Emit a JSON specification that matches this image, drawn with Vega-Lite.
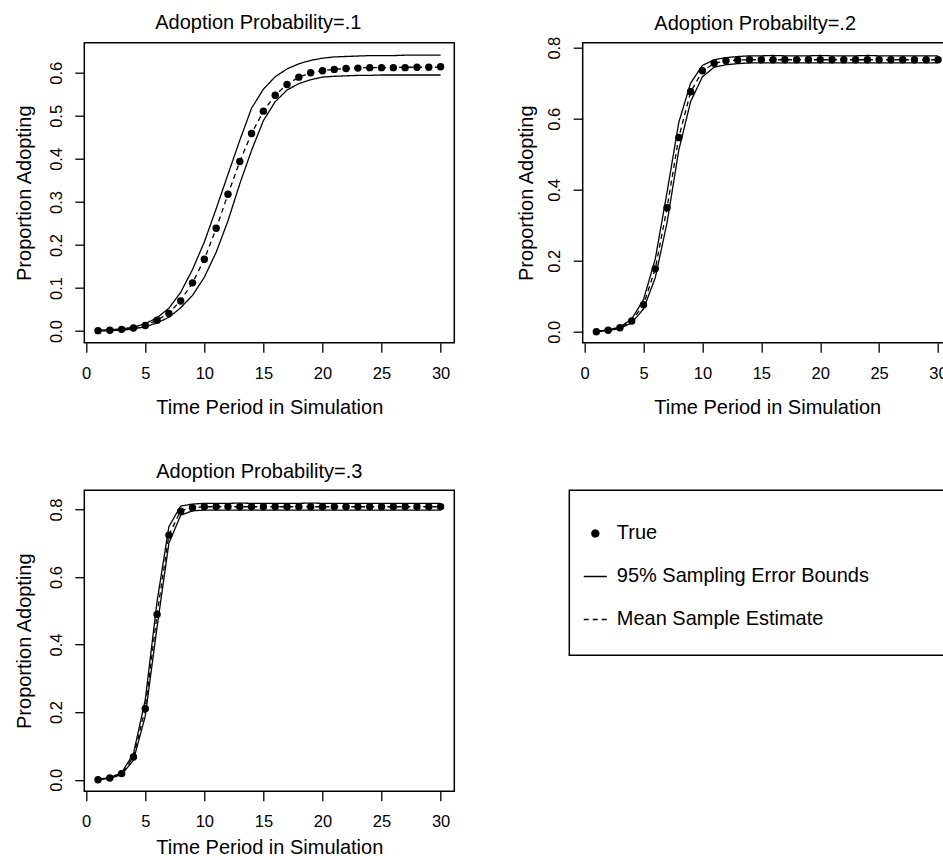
{
  "$schema": "https://vega.github.io/schema/vega-lite/v6.json",
  "background": "white",
  "padding": {"left": 13.3, "top": 11.7, "right": 0, "bottom": 0},
  "spacing": 41.5,
  "datasets": {
    "sim": [
      {"panel":1,"t":1,"truth":0.001,"lower":0.000,"upper":0.002,"mean":0.001},
      {"panel":1,"t":2,"truth":0.002,"lower":0.001,"upper":0.003,"mean":0.002},
      {"panel":1,"t":3,"truth":0.004,"lower":0.002,"upper":0.005,"mean":0.003},
      {"panel":1,"t":4,"truth":0.007,"lower":0.005,"upper":0.009,"mean":0.007},
      {"panel":1,"t":5,"truth":0.013,"lower":0.010,"upper":0.017,"mean":0.013},
      {"panel":1,"t":6,"truth":0.025,"lower":0.019,"upper":0.031,"mean":0.025},
      {"panel":1,"t":7,"truth":0.041,"lower":0.032,"upper":0.053,"mean":0.042},
      {"panel":1,"t":8,"truth":0.070,"lower":0.054,"upper":0.090,"mean":0.071},
      {"panel":1,"t":9,"truth":0.112,"lower":0.083,"upper":0.143,"mean":0.112},
      {"panel":1,"t":10,"truth":0.167,"lower":0.125,"upper":0.207,"mean":0.167},
      {"panel":1,"t":11,"truth":0.239,"lower":0.183,"upper":0.284,"mean":0.238},
      {"panel":1,"t":12,"truth":0.318,"lower":0.256,"upper":0.364,"mean":0.318},
      {"panel":1,"t":13,"truth":0.394,"lower":0.342,"upper":0.443,"mean":0.394},
      {"panel":1,"t":14,"truth":0.459,"lower":0.420,"upper":0.518,"mean":0.459},
      {"panel":1,"t":15,"truth":0.511,"lower":0.489,"upper":0.562,"mean":0.511},
      {"panel":1,"t":16,"truth":0.548,"lower":0.533,"upper":0.591,"mean":0.548},
      {"panel":1,"t":17,"truth":0.573,"lower":0.560,"upper":0.609,"mean":0.573},
      {"panel":1,"t":18,"truth":0.590,"lower":0.575,"upper":0.621,"mean":0.590},
      {"panel":1,"t":19,"truth":0.600,"lower":0.584,"upper":0.629,"mean":0.600},
      {"panel":1,"t":20,"truth":0.605,"lower":0.590,"upper":0.634,"mean":0.605},
      {"panel":1,"t":21,"truth":0.608,"lower":0.592,"upper":0.637,"mean":0.608},
      {"panel":1,"t":22,"truth":0.610,"lower":0.593,"upper":0.638,"mean":0.610},
      {"panel":1,"t":23,"truth":0.611,"lower":0.594,"upper":0.639,"mean":0.611},
      {"panel":1,"t":24,"truth":0.612,"lower":0.594,"upper":0.640,"mean":0.612},
      {"panel":1,"t":25,"truth":0.612,"lower":0.595,"upper":0.640,"mean":0.612},
      {"panel":1,"t":26,"truth":0.612,"lower":0.595,"upper":0.640,"mean":0.612},
      {"panel":1,"t":27,"truth":0.612,"lower":0.595,"upper":0.641,"mean":0.613},
      {"panel":1,"t":28,"truth":0.613,"lower":0.595,"upper":0.641,"mean":0.613},
      {"panel":1,"t":29,"truth":0.613,"lower":0.595,"upper":0.641,"mean":0.613},
      {"panel":1,"t":30,"truth":0.614,"lower":0.595,"upper":0.641,"mean":0.613},
      {"panel":2,"t":1,"truth":0.000,"lower":0.000,"upper":0.001,"mean":0.000},
      {"panel":2,"t":2,"truth":0.004,"lower":0.003,"upper":0.005,"mean":0.004},
      {"panel":2,"t":3,"truth":0.011,"lower":0.009,"upper":0.013,"mean":0.011},
      {"panel":2,"t":4,"truth":0.030,"lower":0.025,"upper":0.036,"mean":0.030},
      {"panel":2,"t":5,"truth":0.076,"lower":0.064,"upper":0.090,"mean":0.076},
      {"panel":2,"t":6,"truth":0.177,"lower":0.152,"upper":0.205,"mean":0.177},
      {"panel":2,"t":7,"truth":0.349,"lower":0.307,"upper":0.393,"mean":0.349},
      {"panel":2,"t":8,"truth":0.547,"lower":0.512,"upper":0.590,"mean":0.548},
      {"panel":2,"t":9,"truth":0.676,"lower":0.648,"upper":0.700,"mean":0.675},
      {"panel":2,"t":10,"truth":0.735,"lower":0.718,"upper":0.750,"mean":0.734},
      {"panel":2,"t":11,"truth":0.756,"lower":0.745,"upper":0.766,"mean":0.756},
      {"panel":2,"t":12,"truth":0.763,"lower":0.752,"upper":0.772,"mean":0.763},
      {"panel":2,"t":13,"truth":0.765,"lower":0.755,"upper":0.775,"mean":0.765},
      {"panel":2,"t":14,"truth":0.766,"lower":0.757,"upper":0.777,"mean":0.766},
      {"panel":2,"t":15,"truth":0.766,"lower":0.757,"upper":0.777,"mean":0.766},
      {"panel":2,"t":16,"truth":0.766,"lower":0.757,"upper":0.778,"mean":0.766},
      {"panel":2,"t":17,"truth":0.766,"lower":0.757,"upper":0.777,"mean":0.766},
      {"panel":2,"t":18,"truth":0.766,"lower":0.757,"upper":0.777,"mean":0.766},
      {"panel":2,"t":19,"truth":0.766,"lower":0.757,"upper":0.777,"mean":0.766},
      {"panel":2,"t":20,"truth":0.766,"lower":0.757,"upper":0.778,"mean":0.766},
      {"panel":2,"t":21,"truth":0.766,"lower":0.757,"upper":0.777,"mean":0.766},
      {"panel":2,"t":22,"truth":0.766,"lower":0.757,"upper":0.777,"mean":0.766},
      {"panel":2,"t":23,"truth":0.766,"lower":0.757,"upper":0.777,"mean":0.766},
      {"panel":2,"t":24,"truth":0.766,"lower":0.757,"upper":0.778,"mean":0.766},
      {"panel":2,"t":25,"truth":0.766,"lower":0.757,"upper":0.777,"mean":0.766},
      {"panel":2,"t":26,"truth":0.766,"lower":0.757,"upper":0.777,"mean":0.766},
      {"panel":2,"t":27,"truth":0.766,"lower":0.757,"upper":0.777,"mean":0.766},
      {"panel":2,"t":28,"truth":0.766,"lower":0.757,"upper":0.777,"mean":0.766},
      {"panel":2,"t":29,"truth":0.766,"lower":0.757,"upper":0.777,"mean":0.766},
      {"panel":2,"t":30,"truth":0.766,"lower":0.757,"upper":0.777,"mean":0.766},
      {"panel":3,"t":1,"truth":0.000,"lower":0.000,"upper":0.001,"mean":0.000},
      {"panel":3,"t":2,"truth":0.005,"lower":0.004,"upper":0.006,"mean":0.005},
      {"panel":3,"t":3,"truth":0.018,"lower":0.015,"upper":0.021,"mean":0.018},
      {"panel":3,"t":4,"truth":0.067,"lower":0.058,"upper":0.077,"mean":0.067},
      {"panel":3,"t":5,"truth":0.210,"lower":0.188,"upper":0.236,"mean":0.211},
      {"panel":3,"t":6,"truth":0.489,"lower":0.452,"upper":0.528,"mean":0.490},
      {"panel":3,"t":7,"truth":0.724,"lower":0.700,"upper":0.749,"mean":0.724},
      {"panel":3,"t":8,"truth":0.795,"lower":0.783,"upper":0.810,"mean":0.796},
      {"panel":3,"t":9,"truth":0.805,"lower":0.796,"upper":0.816,"mean":0.806},
      {"panel":3,"t":10,"truth":0.808,"lower":0.798,"upper":0.818,"mean":0.808},
      {"panel":3,"t":11,"truth":0.808,"lower":0.798,"upper":0.818,"mean":0.808},
      {"panel":3,"t":12,"truth":0.808,"lower":0.798,"upper":0.818,"mean":0.808},
      {"panel":3,"t":13,"truth":0.808,"lower":0.798,"upper":0.819,"mean":0.808},
      {"panel":3,"t":14,"truth":0.808,"lower":0.798,"upper":0.818,"mean":0.808},
      {"panel":3,"t":15,"truth":0.808,"lower":0.798,"upper":0.818,"mean":0.808},
      {"panel":3,"t":16,"truth":0.808,"lower":0.798,"upper":0.818,"mean":0.808},
      {"panel":3,"t":17,"truth":0.808,"lower":0.798,"upper":0.818,"mean":0.808},
      {"panel":3,"t":18,"truth":0.808,"lower":0.798,"upper":0.818,"mean":0.808},
      {"panel":3,"t":19,"truth":0.808,"lower":0.798,"upper":0.819,"mean":0.808},
      {"panel":3,"t":20,"truth":0.808,"lower":0.798,"upper":0.818,"mean":0.808},
      {"panel":3,"t":21,"truth":0.808,"lower":0.798,"upper":0.818,"mean":0.808},
      {"panel":3,"t":22,"truth":0.808,"lower":0.798,"upper":0.818,"mean":0.808},
      {"panel":3,"t":23,"truth":0.808,"lower":0.798,"upper":0.818,"mean":0.808},
      {"panel":3,"t":24,"truth":0.808,"lower":0.798,"upper":0.818,"mean":0.808},
      {"panel":3,"t":25,"truth":0.808,"lower":0.798,"upper":0.818,"mean":0.808},
      {"panel":3,"t":26,"truth":0.808,"lower":0.798,"upper":0.818,"mean":0.808},
      {"panel":3,"t":27,"truth":0.808,"lower":0.798,"upper":0.818,"mean":0.808},
      {"panel":3,"t":28,"truth":0.808,"lower":0.798,"upper":0.818,"mean":0.808},
      {"panel":3,"t":29,"truth":0.808,"lower":0.798,"upper":0.818,"mean":0.808},
      {"panel":3,"t":30,"truth":0.808,"lower":0.798,"upper":0.818,"mean":0.808}
    ]
  },
  "vconcat": [
    {
      "bounds": "flush",
      "spacing": 128.4,
      "hconcat": [
        {
          "title": {"text": "Adoption Probability=.1", "offset": 10, "dx": -11},
          "width": 370,
          "height": 300,
          "data": {"name": "sim"},
          "transform": [{"filter": "datum.panel == 1"}],
          "encoding": {
            "x": {"field": "t", "type": "quantitative", "title": "Time Period in Simulation",
                  "scale": {"domain": [-0.16, 31.16], "nice": false, "zero": false},
                  "axis": {"values": [0, 5, 10, 15, 20, 25, 30], "format": "d", "titlePadding": 14.8}}
          },
          "layer": [
            {"mark": {"type": "line", "color": "black", "strokeWidth": 1.3},
             "encoding": {
               "y": {"field": "upper", "type": "quantitative", "title": "Proportion Adopting",
                     "scale": {"domain": [-0.027, 0.670], "nice": false, "zero": false},
                     "axis": {"values": [0, 0.1, 0.2, 0.3, 0.4, 0.5, 0.6], "format": ".1f", "titlePadding": 19.8}},
               "strokeDash": {"datum": "95% Sampling Error Bounds",
                     "scale": {"domain": ["True", "95% Sampling Error Bounds", "Mean Sample Estimate"], "range": [[1, 0], [1, 0], [5, 4]]},
                     "legend": {"title": null, "labelLimit": 0, "symbolStrokeColor": "black",
                                "encode": {"symbols": {"update": {"stroke": {"value": "black"}, "strokeWidth": {"value": 1.3}}}}}}}},
            {"mark": {"type": "line", "color": "black", "strokeWidth": 1.3},
             "encoding": {
               "y": {"field": "lower", "type": "quantitative", "title": "Proportion Adopting"},
               "strokeDash": {"datum": "95% Sampling Error Bounds"}}},
            {"mark": {"type": "line", "color": "black", "strokeWidth": 1.3},
             "encoding": {
               "y": {"field": "mean", "type": "quantitative", "title": "Proportion Adopting"},
               "strokeDash": {"datum": "Mean Sample Estimate"}}},
            {"mark": {"type": "point", "filled": true, "color": "black", "size": 55, "opacity": 1},
             "encoding": {
               "y": {"field": "truth", "type": "quantitative", "title": "Proportion Adopting"},
               "shape": {"datum": "True",
                     "scale": {"domain": ["True", "95% Sampling Error Bounds", "Mean Sample Estimate"], "range": ["circle", "M-3.3,0H3.3", "M-3.3,0H3.3"]},
                     "legend": {"title": null, "labelLimit": 0, "symbolStrokeColor": "black",
                                "encode": {"symbols": {"update": {"stroke": {"value": "black"}, "strokeWidth": {"value": 1.3}}}}}}}}
          ]
        },
        {
          "title": {"text": "Adoption Probabilty=.2", "offset": 2, "dx": -12},
          "width": 369,
          "height": 300,
          "data": {"name": "sim"},
          "transform": [{"filter": "datum.panel == 2"}],
          "encoding": {
            "x": {"field": "t", "type": "quantitative", "title": "Time Period in Simulation",
                  "scale": {"domain": [-0.16, 31.16], "nice": false, "zero": false},
                  "axis": {"values": [0, 5, 10, 15, 20, 25, 30], "format": "d", "titlePadding": 14.8}}
          },
          "layer": [
            {"mark": {"type": "line", "color": "black", "strokeWidth": 1.3},
             "encoding": {
               "y": {"field": "upper", "type": "quantitative", "title": "Proportion Adopting",
                     "scale": {"domain": [-0.031, 0.814], "nice": false, "zero": false},
                     "axis": {"values": [0, 0.2, 0.4, 0.6, 0.8], "format": ".1f", "titlePadding": 16.4}},
               "strokeDash": {"datum": "95% Sampling Error Bounds"}}},
            {"mark": {"type": "line", "color": "black", "strokeWidth": 1.3},
             "encoding": {
               "y": {"field": "lower", "type": "quantitative", "title": "Proportion Adopting"},
               "strokeDash": {"datum": "95% Sampling Error Bounds"}}},
            {"mark": {"type": "line", "color": "black", "strokeWidth": 1.3},
             "encoding": {
               "y": {"field": "mean", "type": "quantitative", "title": "Proportion Adopting"},
               "strokeDash": {"datum": "Mean Sample Estimate"}}},
            {"mark": {"type": "point", "filled": true, "color": "black", "size": 55, "opacity": 1},
             "encoding": {
               "y": {"field": "truth", "type": "quantitative", "title": "Proportion Adopting"},
               "shape": {"datum": "True"}}}
          ]
        }
      ]
    },
    {
      "bounds": "flush",
      "spacing": 115,
      "hconcat": [
        {
          "title": {"text": "Adoption Probability=.3", "offset": 8.4, "dx": -10},
          "width": 370,
          "height": 301,
          "data": {"name": "sim"},
          "transform": [{"filter": "datum.panel == 3"}],
          "encoding": {
            "x": {"field": "t", "type": "quantitative", "title": "Time Period in Simulation",
                  "scale": {"domain": [-0.16, 31.16], "nice": false, "zero": false},
                  "axis": {"values": [0, 5, 10, 15, 20, 25, 30], "format": "d", "titlePadding": 6.8}}
          },
          "layer": [
            {"mark": {"type": "line", "color": "black", "strokeWidth": 1.3},
             "encoding": {
               "y": {"field": "upper", "type": "quantitative", "title": "Proportion Adopting",
                     "scale": {"domain": [-0.034, 0.857], "nice": false, "zero": false},
                     "axis": {"values": [0, 0.2, 0.4, 0.6, 0.8], "format": ".1f", "titlePadding": 19.4}},
               "strokeDash": {"datum": "95% Sampling Error Bounds"}}},
            {"mark": {"type": "line", "color": "black", "strokeWidth": 1.3},
             "encoding": {
               "y": {"field": "lower", "type": "quantitative", "title": "Proportion Adopting"},
               "strokeDash": {"datum": "95% Sampling Error Bounds"}}},
            {"mark": {"type": "line", "color": "black", "strokeWidth": 1.3},
             "encoding": {
               "y": {"field": "mean", "type": "quantitative", "title": "Proportion Adopting"},
               "strokeDash": {"datum": "Mean Sample Estimate"}}},
            {"mark": {"type": "point", "filled": true, "color": "black", "size": 55, "opacity": 1},
             "encoding": {
               "y": {"field": "truth", "type": "quantitative", "title": "Proportion Adopting"},
               "shape": {"datum": "True"}}}
          ]
        },
        {
          "width": 405,
          "height": 165,
          "view": {"stroke": "black", "strokeWidth": 1.5, "fill": "white"},
          "data": {"values": []},
          "mark": {"type": "point", "opacity": 0},
          "encoding": {
            "x": {"field": "v", "type": "quantitative", "scale": {"domain": [0, 1]}, "axis": null},
            "y": {"field": "v", "type": "quantitative", "scale": {"domain": [0, 1]}, "axis": null}
          }
        }
      ]
    }
  ],
  "config": {
    "font": "Liberation Sans",
    "view": {"stroke": "black", "strokeWidth": 1.5},
    "title": {"font": "Liberation Sans", "fontSize": 20, "fontWeight": "normal", "color": "black", "baseline": "alphabetic", "frame": "group", "anchor": "middle"},
    "axis": {"domain": false, "grid": false, "ticks": true, "tickColor": "black", "tickWidth": 1.3, "tickSize": 9.5,
             "labelFont": "Liberation Sans", "labelFontSize": 16.5, "labelColor": "black", "labelFlush": false, "labelOverlap": false,
             "titleFont": "Liberation Sans", "titleFontSize": 20, "titleFontWeight": "normal", "titleColor": "black"},
    "axisX": {"labelPadding": 13, "labelAngle": 0, "minExtent": 40, "maxExtent": 40},
    "axisY": {"labelAngle": -90, "labelAlign": "center", "labelBaseline": "alphabetic", "labelPadding": 13.5, "minExtent": 30, "maxExtent": 30},
    "legend": {"orient": "none", "legendX": 501, "legendY": 480.8, "padding": 0, "strokeColor": null,
               "labelFont": "Liberation Sans", "labelFontSize": 20, "labelColor": "black", "labelOffset": 11.5, "labelLimit": 0,
               "symbolSize": 49, "symbolStrokeColor": "black", "symbolFillColor": "black", "symbolStrokeWidth": 1.3,
               "rowPadding": 23}
  }
}
